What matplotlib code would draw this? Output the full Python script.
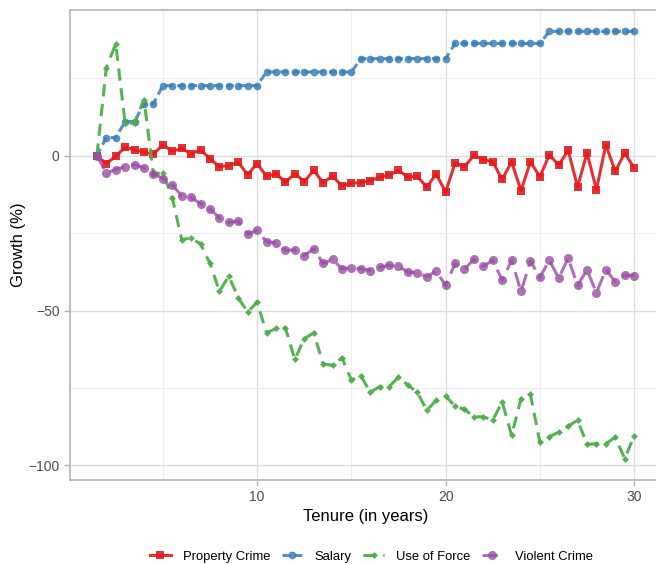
import numpy as np
import matplotlib
matplotlib.use("Agg")
import matplotlib.pyplot as plt

plt.rcParams['font.family'] = ['Liberation Sans', 'DejaVu Sans']

# tenure in half-year steps
tenure = np.arange(1.5, 30.01, 0.5)

property_crime = [0, -2.6, -0.2, 2.7, 1.9, 1.1, 0.5, 3.5, 1.4, 2.3,
                  0.6, 1.9, -1.0, -3.6, -3.2, -2.2, -6.1, -2.6, -6.7, -5.8,
                  -8.6, -5.8, -8.4, -4.8, -8.7, -6.6, -9.8, -8.8, -8.8, -8.1,
                  -7.0, -6.3, -4.8, -6.9, -6.7, -10.2, -5.9, -11.8, -2.4, -3.6,
                  0.1, -1.3, -2.0, -7.7, -2.0, -11.3, -2.0, -6.9, 0.3, -3.1,
                  1.7, -10.1, 0.9, -11.0, 3.5, -5.1, 0.9, -4.0]

salary = ([0, 5.8, 5.8, 11.0, 11.0, 16.8, 16.8] + [22.6] * 11 + [27.0] * 10
          + [31.3] * 10 + [36.2] * 10 + [40.1] * 10)

use_of_force = [0, 28.3, 36.1, 10.5, 10.5, 18.1, -5.9, -5.6, -13.6, -27.1,
                -26.6, -28.5, -34.8, -43.8, -38.9, -45.9, -50.5, -47.3, -57.2, -55.8,
                -55.6, -65.8, -59.1, -57.2, -67.2, -67.7, -65.3, -72.4, -71.0, -76.4,
                -74.6, -74.6, -71.5, -74.1, -76.4, -82.2, -79.0, -77.6, -80.9, -81.9,
                -84.3, -84.3, -85.4, -79.5, -90.3, -78.5, -77.1, -92.5, -90.7, -89.3,
                -87.3, -85.4, -93.2, -93.0, -93.0, -90.9, -97.8, -90.5]

violent_crime = [0, -5.6, -4.5, -3.6, -2.9, -4.0, -5.8, -7.4, -9.4, -13.0,
                 -13.5, -15.5, -17.2, -20.1, -21.5, -21.2, -25.3, -24.1, -27.8, -28.2,
                 -30.5, -30.5, -32.3, -30.1, -34.8, -33.5, -36.5, -36.2, -36.5, -37.1,
                 -36.0, -35.4, -35.7, -37.6, -37.8, -39.1, -37.3, -41.9, -34.8, -36.6,
                 -33.5, -35.7, -33.8, -40.2, -33.8, -43.8, -34.1, -39.3, -33.8, -39.5,
                 -33.1, -41.9, -36.9, -44.3, -36.8, -40.7, -38.6, -38.7]

fig = plt.figure(figsize=(6.56, 5.64), dpi=100)
ax = fig.add_axes([70 / 656, 1 - 480 / 564, 591 / 656, 470 / 564])

ax.plot(tenure, property_crime, color='#E41A1C', linewidth=2.2, linestyle='-',
        marker='s', markersize=6, markeredgewidth=0, alpha=0.9,
        label='Property Crime', zorder=3)
ax.plot(tenure, salary, color='#377EB8', linewidth=2.2, linestyle=(0, (2.5, 1.5)),
        marker='o', markersize=5.5, markeredgewidth=0, alpha=0.85,
        label='Salary', zorder=3)
ax.plot(tenure, use_of_force, color='#4DAF4A', linewidth=2.2, linestyle=(0, (4, 2.5)),
        marker='D', markersize=3.5, markeredgewidth=0, alpha=0.95,
        label='Use of Force', zorder=3)
ax.plot(tenure, violent_crime, color='#984EA3', linewidth=2.2, linestyle=(0, (5, 2.5)),
        marker='o', markersize=6.5, markeredgewidth=0, alpha=0.8,
        label='Violent Crime', zorder=3)

ax.set_xlim(0.075, 31.425)
ax.set_ylim(-104.7, 47.0)
ax.set_xticks([10, 20, 30])
ax.set_xticks([5, 15, 25], minor=True)
ax.set_yticks([-100, -50, 0])
ax.set_yticks([-75, -25, 25], minor=True)
ax.set_yticklabels(['\u2212100', '\u221250', '0'])

ax.grid(True, which='major', color='#dedede', linewidth=1.0)
ax.grid(True, which='minor', color='#ebebeb', linewidth=0.6)
ax.set_axisbelow(True)
for side in ['top', 'right', 'left', 'bottom']:
    ax.spines[side].set_color('#b3b3b3')
    ax.spines[side].set_linewidth(1.2)

ax.tick_params(axis='both', which='major', colors='#b3b3b3', labelcolor='#4d4d4d',
               labelsize=10, length=4, width=1)
ax.tick_params(axis='both', which='minor', length=0)

ax.set_xlabel('Tenure (in years)', fontsize=12, labelpad=3)
ax.set_ylabel('Growth (%)', fontsize=12, labelpad=2)

# title sits above the canvas edge, only the descenders show
fig.text(0.5, 1.008, 'Percentage Change by Tenure: Salary, Crime, and Use of Force',
         ha='center', va='baseline', fontsize=14, fontweight='bold')

fig.legend(loc='center', bbox_to_anchor=(0.566, 0.013), ncol=4, frameon=False,
           fontsize=9.4, handlelength=1.6, columnspacing=0.9, handletextpad=0.9)

fig.savefig('out.png', dpi=100)
